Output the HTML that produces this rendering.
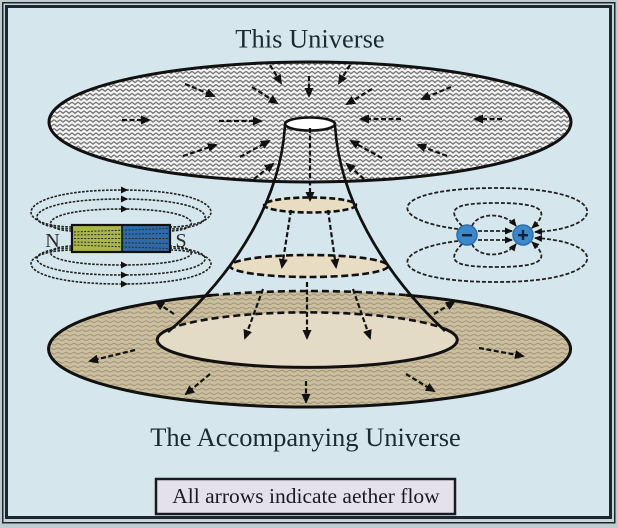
<!DOCTYPE html>
<html><head><meta charset="utf-8"><style>
html,body{margin:0;padding:0;background:#c0cbd0;}
svg{display:block;}
</style></head><body>
<svg width="618" height="528" viewBox="0 0 618 528" xmlns="http://www.w3.org/2000/svg">
<defs>
<pattern id="zz" width="6" height="4.4" patternUnits="userSpaceOnUse">
<rect width="6" height="4.4" fill="#f6f6f6"/>
<polyline points="0,0.9 3,3.3 6,0.9" fill="none" stroke="#707070" stroke-width="1.3"/>
</pattern>
<pattern id="wv" width="8" height="4.5" patternUnits="userSpaceOnUse">
<rect width="8" height="4.5" fill="#cbbf9f"/>
<path d="M0 2.2 Q2 0.6 4 2.2 T8 2.2" fill="none" stroke="#a5987a" stroke-width="1.1"/>
</pattern>
<marker id="ah" markerWidth="10" markerHeight="9" refX="8" refY="4.5" orient="auto" markerUnits="userSpaceOnUse">
<path d="M0,0 L10,4.5 L0,9 z" fill="#111"/>
</marker>
<marker id="as" markerWidth="8" markerHeight="7" refX="7" refY="3.5" orient="auto" markerUnits="userSpaceOnUse">
<path d="M0,0 L8,3.5 L0,7 z" fill="#111"/>
</marker>
</defs>

<!-- frame -->
<rect x="0" y="0" width="618" height="528" fill="#c0cbd0"/>
<rect x="2.75" y="2.75" width="612" height="520" fill="#c9d3d7" stroke="#1c2830" stroke-width="1.5"/>
<rect x="6.5" y="6.5" width="604" height="511" fill="#d5e7ed" stroke="#1c2830" stroke-width="3"/>

<!-- titles -->
<text x="310" y="47.5" text-anchor="middle" font-family="Liberation Serif, serif" font-size="26.5" fill="#1d2a32">This Universe</text>
<text x="305.5" y="446" text-anchor="middle" font-family="Liberation Serif, serif" font-size="26.5" fill="#1d2a32">The Accompanying Universe</text>

<!-- label box -->
<rect x="156" y="479" width="299" height="35" fill="#e4e1ea" stroke="#1a1a22" stroke-width="2.5"/>
<text x="306" y="503" text-anchor="middle" font-family="Liberation Serif, serif" font-size="21.5" fill="#1a1a22">All arrows indicate aether flow</text>

<!-- lower universe -->
<ellipse cx="310" cy="349" rx="261" ry="58" fill="url(#wv)"/>
<path d="M 212 295.2 A 261 58 0 1 0 406 295.1" fill="none" stroke="#111" stroke-width="3"/>
<path d="M 212 295.2 A 261 58 0 0 1 406 295.1" fill="none" stroke="#111" stroke-width="2.6" stroke-dasharray="7 4"/>

<!-- cone lines -->
<path d="M 285 125 C 281 195, 240 270, 168 332" fill="none" stroke="#111" stroke-width="2.6"/>
<path d="M 335 125 C 339 195, 380 270, 445 331" fill="none" stroke="#111" stroke-width="2.6"/>

<!-- inner ellipse -->
<ellipse cx="307" cy="340" rx="150" ry="27.5" fill="#e4dbc6"/>
<path d="M 169 329.2 A 150 27.5 0 1 0 445 329" fill="none" stroke="#111" stroke-width="3"/>
<path d="M 169 329.2 A 150 27.5 0 0 1 445 329" fill="none" stroke="#111" stroke-width="2.6" stroke-dasharray="7 4"/>

<!-- middle ellipses -->
<ellipse cx="310" cy="205" rx="46" ry="7.5" fill="#e8dcc2" stroke="#111" stroke-width="2.6" stroke-dasharray="6 3"/>
<ellipse cx="309" cy="266" rx="79" ry="11" fill="#e8dcc2" stroke="#111" stroke-width="2.6" stroke-dasharray="7 3.5"/>

<!-- top universe -->
<ellipse cx="310" cy="122" rx="261" ry="60" fill="url(#zz)" stroke="#111" stroke-width="3"/>
<path d="M 285 125 C 281 195, 240 270, 168 332" fill="none" stroke="#111" stroke-width="2.6"/>
<path d="M 335 125 C 339 195, 380 270, 445 331" fill="none" stroke="#111" stroke-width="2.6"/>
<ellipse cx="310" cy="124" rx="25" ry="6.5" fill="#ffffff" stroke="#111" stroke-width="2.6"/>

<!-- flow arrows -->
<g fill="none" stroke="#111" stroke-width="2.2" stroke-dasharray="5 2.5" marker-end="url(#ah)">
<line x1="270" y1="65" x2="281" y2="83"/>
<line x1="309" y1="76" x2="309" y2="96"/>
<line x1="350" y1="65" x2="339" y2="83"/>
<line x1="185" y1="84" x2="214" y2="96"/>
<line x1="252" y1="87" x2="277" y2="103"/>
<line x1="372" y1="89" x2="347" y2="104"/>
<line x1="451" y1="87" x2="422" y2="99"/>
<line x1="122" y1="120" x2="149" y2="120"/>
<line x1="219" y1="121" x2="261" y2="121"/>
<line x1="401" y1="119" x2="361" y2="119"/>
<line x1="502" y1="119" x2="475" y2="119"/>
<line x1="183" y1="156" x2="216" y2="145"/>
<line x1="240" y1="157" x2="269" y2="141"/>
<line x1="382" y1="158" x2="351" y2="141"/>
<line x1="447" y1="156" x2="418" y2="145"/>
<line x1="254" y1="179" x2="273" y2="164"/>
<line x1="364" y1="179" x2="347" y2="164"/>
<line x1="310" y1="128" x2="310" y2="200"/>
<line x1="291" y1="210" x2="282" y2="267"/>
<line x1="328" y1="210" x2="336" y2="267"/>
<line x1="307" y1="282" x2="307" y2="338"/>
<line x1="263" y1="289" x2="245" y2="338"/>
<line x1="353" y1="289" x2="370" y2="338"/>
<line x1="174" y1="314" x2="156" y2="302"/>
<line x1="434" y1="314" x2="454" y2="302"/>
<line x1="135" y1="350" x2="90" y2="361"/>
<line x1="479" y1="348" x2="523" y2="356"/>
<line x1="210" y1="374" x2="186" y2="394"/>
<line x1="306" y1="381" x2="306" y2="402"/>
<line x1="406" y1="374" x2="434" y2="391"/>
</g>

<!-- magnet field lines -->
<g fill="none" stroke="#222" stroke-width="1.6" stroke-dasharray="2.6 1.4">
<path d="M 72 227 C 11 226, 11 190, 121 190 C 231 190, 231 226, 170 227"/>
<path d="M 72 229 C 19 228, 19 199, 121 199 C 223 199, 223 228, 170 229"/>
<path d="M 72 231 C 38 230, 38 209, 121 209 C 204 209, 204 230, 170 231"/>
<path d="M 72 250 C 11 251, 11 284, 121 284 C 231 284, 231 251, 170 250"/>
<path d="M 72 248 C 19 249, 19 275, 121 275 C 223 275, 223 249, 170 248"/>
<path d="M 72 246 C 38 247, 38 265, 121 265 C 204 265, 204 247, 170 246"/>
</g>
<g fill="#111">
<path d="M121 186.5 L128 190 L121 193.5 z"/>
<path d="M121 195.5 L128 199 L121 202.5 z"/>
<path d="M121 205.5 L128 209 L121 212.5 z"/>
<path d="M121 261.5 L128 265 L121 268.5 z"/>
<path d="M121 271.5 L128 275 L121 278.5 z"/>
<path d="M121 280.5 L128 284 L121 287.5 z"/>
</g>

<!-- magnet -->
<rect x="72" y="225" width="50" height="27" fill="#a9b64c"/>
<rect x="122" y="225" width="48" height="27" fill="#2f6aa7"/>
<g fill="none" stroke="#2a2a2a" stroke-width="1" stroke-dasharray="2 1.4">
<path d="M74 232 L168 228.5"/>
<path d="M74 235 L168 233.5"/>
<path d="M74 238.5 L168 238.5"/>
<path d="M74 242 L168 243.5"/>
<path d="M74 245 L168 248.5"/>
</g>
<line x1="122" y1="225" x2="122" y2="252" stroke="#111" stroke-width="1.6"/>
<rect x="72" y="225" width="98" height="27" fill="none" stroke="#111" stroke-width="2.2"/>
<rect x="45" y="233" width="16" height="13" fill="#d5e7ed"/>
<rect x="173" y="233" width="16" height="13" fill="#d5e7ed"/>
<text x="52.5" y="247" text-anchor="middle" font-family="Liberation Serif, serif" font-size="20" fill="#2a2a2a">N</text>
<text x="181" y="247" text-anchor="middle" font-family="Liberation Serif, serif" font-size="20" fill="#2a2a2a">S</text>

<!-- charge field lines -->
<g fill="none" stroke="#222" stroke-width="1.8" stroke-dasharray="4 2" marker-end="url(#as)">
<line x1="478" y1="231" x2="512" y2="231"/>
<line x1="478" y1="240" x2="512" y2="240"/>
<path d="M 472 226 C 478 212, 505 212, 516 226"/>
<path d="M 472 244 C 478 258, 505 258, 516 244"/>
<path d="M 462 226 C 445 208, 455 203, 497 203 C 540 203, 552 210, 532 228"/>
<path d="M 462 244 C 445 262, 455 267, 497 267 C 540 267, 552 260, 532 242"/>
<path d="M 458 229 C 385 220, 385 188, 497 188 C 610 188, 610 228, 535 232"/>
<path d="M 458 241 C 385 250, 385 282, 497 282 C 610 282, 610 242, 535 238"/>
</g>

<!-- charges -->
<circle cx="467" cy="235" r="10" fill="#3c88c8" stroke="#2a6ea8" stroke-width="1.5"/>
<rect x="462" y="234" width="10" height="2.4" fill="#0d2238"/>
<circle cx="523" cy="235" r="10" fill="#3c88c8" stroke="#2a6ea8" stroke-width="1.5"/>
<rect x="518" y="234" width="10" height="2.4" fill="#0d2238"/>
<rect x="521.8" y="230" width="2.4" height="10" fill="#0d2238"/>
</svg>
</body></html>
